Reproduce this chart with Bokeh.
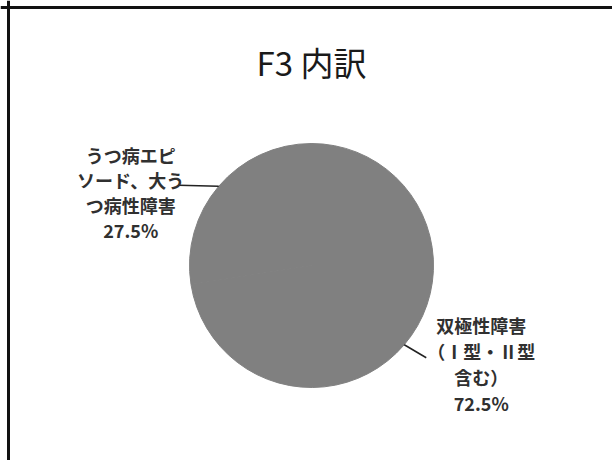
import numpy as np
from bokeh.plotting import figure
from bokeh.models import Range1d, Span, ColumnDataSource
from bokeh.core.properties import value
from bokeh.embed import file_html
from bokeh.resources import INLINE

# ---- data ----
title_text = "F3 内訳"
categories = ["双極性障害（Ⅰ型・Ⅱ型含む）", "うつ病エピソード、大うつ病性障害"]
values = [72.5, 27.5]
label_lines = [["双極性障害", "（Ⅰ型・Ⅱ型", "含む）"],
               ["うつ病エピ", "ソード、大う", "つ病性障害"]]
slice_colors = ["#808080", "#808080"]

# ---- layout ----
W, H = 612, 460
FONT = value("Noto Sans CJK JP")
p = figure(width=W, height=H, x_range=Range1d(0, W), y_range=Range1d(0, H),
           output_backend="svg", toolbar_location=None, min_border=0)
p.axis.visible = False
p.grid.visible = False
p.outline_line_color = None
p.background_fill_color = "white"
p.border_fill_color = "white"

cx, cy, r = 311, 195, 122
n = len(values)
frac = np.array(values, dtype=float) / sum(values)
cum = np.concatenate([[0.0], np.cumsum(frac)])
th_s = cum[:-1] * 2 * np.pi   # clockwise from 12 o'clock
th_e = cum[1:] * 2 * np.pi
start = np.pi / 2 - th_e
end = np.pi / 2 - th_s

src = ColumnDataSource(dict(x=[cx] * n, y=[cy] * n, start=start, end=end,
                            color=slice_colors, name=categories))
p.wedge(x="x", y="y", radius=r, start_angle="start", end_angle="end",
        fill_color="color", line_color="color", line_width=1, source=src)

# leader lines and labels
mid = np.pi / 2 - (th_s + th_e) / 2
edge_x = cx + r * np.cos(mid)
edge_y = cy + r * np.sin(mid)
leader_off = [(22, -13), (-40, 1)]
text_dx = [55, -48]
line_dy = [[33, 7, -19, -45], [30, 5, -20, -45]]

lx0, ly0, lx1, ly1 = [], [], [], []
tx, ty, tt = [], [], []
for i in range(n):
    ex, ey = edge_x[i], edge_y[i]
    ex1, ey1 = ex + leader_off[i][0], ey + leader_off[i][1]
    lx0.append(ex); ly0.append(ey); lx1.append(ex1); ly1.append(ey1)
    lines = label_lines[i] + [f"{values[i]:.1f}%"]
    for j, t in enumerate(lines):
        tx.append(ex1 + text_dx[i])
        ty.append(ey1 + line_dy[i][j])
        tt.append(t)

p.segment(x0=lx0, y0=ly0, x1=lx1, y1=ly1, line_color="#222222", line_width=1.5)
p.text(x=tx, y=ty, text=tt, text_font=FONT, text_font_style="bold",
       text_font_size="18px", text_color="#303030",
       text_align="center", text_baseline="middle")

# title
p.text(x=[cx], y=[399], text=[title_text], text_font=FONT,
       text_font_size="33px", text_color="#1a1a1a",
       text_align="center", text_baseline="middle")

# slide frame (left and top edges visible)
p.add_layout(Span(location=8, dimension="height", line_color="#111111", line_width=3))
p.add_layout(Span(location=H - 7, dimension="width", line_color="#111111", line_width=3))

open("out.html", "w").write(file_html(p, INLINE))
